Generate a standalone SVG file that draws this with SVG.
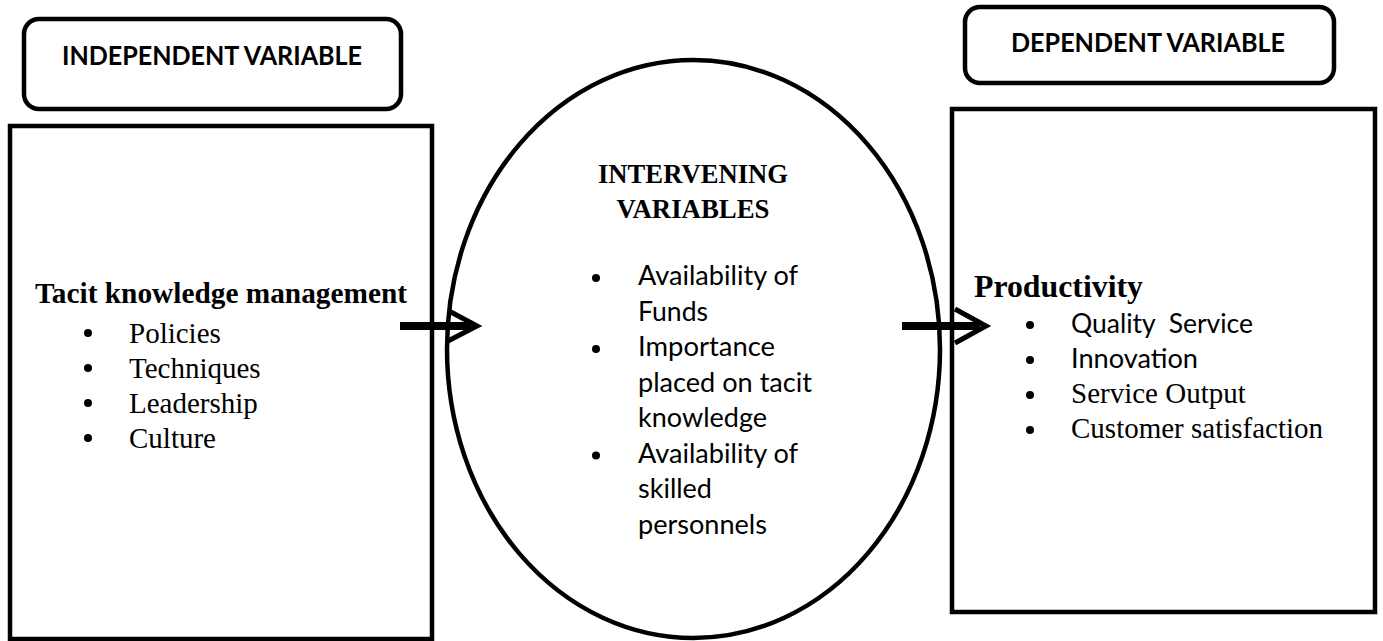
<svg xmlns="http://www.w3.org/2000/svg" width="1383" height="641" viewBox="0 0 1383 641">
<style>
.shape{fill:#fff;stroke:#000;stroke-width:4.5}
.hdr{font-family:Lato,"Liberation Sans",sans-serif;font-weight:bold;font-size:27px;fill:#000}
.sans{font-family:Lato,"Liberation Sans",sans-serif;font-size:27px;fill:#000;white-space:pre}
.serif{font-family:"Liberation Serif","Times New Roman",serif;font-size:29px;fill:#000}
.serifb{font-family:"Liberation Serif","Times New Roman",serif;font-weight:bold;fill:#000}
.shaft{stroke:#000;stroke-width:8;fill:none}
.head{stroke:#000;stroke-width:5;fill:none;stroke-linejoin:miter}
.dot{fill:#000}
</style>
<rect width="1383" height="641" fill="#fff"/>
<g id="independent-header">
<rect class="shape" x="24" y="19" width="377" height="90" rx="15"/>
<text class="hdr" x="62" y="65" textLength="300" lengthAdjust="spacingAndGlyphs">INDEPENDENT VARIABLE</text>
</g>
<g id="independent-box">
<rect class="shape" x="10" y="126" width="422" height="513"/>
<text class="serifb" x="35" y="303" font-size="29" textLength="372" lengthAdjust="spacingAndGlyphs">Tacit knowledge management</text>
<circle class="dot" cx="88" cy="333" r="4"/>
<text class="serif" x="129" y="343">Policies</text>
<circle class="dot" cx="88" cy="368" r="4"/>
<text class="serif" x="129" y="378">Techniques</text>
<circle class="dot" cx="88" cy="403" r="4"/>
<text class="serif" x="129" y="413">Leadership</text>
<circle class="dot" cx="88" cy="438" r="4"/>
<text class="serif" x="129" y="448">Culture</text>
</g>
<g id="intervening">
<ellipse class="shape" cx="693.5" cy="349" rx="246.5" ry="289"/>
<text class="serifb" x="693" y="183" font-size="26.6" text-anchor="middle" textLength="190" lengthAdjust="spacingAndGlyphs">INTERVENING</text>
<text class="serifb" x="693" y="218" font-size="26.6" text-anchor="middle" textLength="153" lengthAdjust="spacingAndGlyphs">VARIABLES</text>
<circle class="dot" cx="596" cy="278" r="4"/>
<text class="sans" x="638" y="285" textLength="160" lengthAdjust="spacingAndGlyphs">Availability of</text>
<text class="sans" x="638" y="320.5" textLength="70" lengthAdjust="spacingAndGlyphs">Funds</text>
<circle class="dot" cx="596" cy="349" r="4"/>
<text class="sans" x="638" y="356" textLength="137" lengthAdjust="spacingAndGlyphs">Importance</text>
<text class="sans" x="638" y="391.5" textLength="174" lengthAdjust="spacingAndGlyphs">placed on tacit</text>
<text class="sans" x="638" y="427" textLength="129" lengthAdjust="spacingAndGlyphs">knowledge</text>
<circle class="dot" cx="596" cy="455.5" r="4"/>
<text class="sans" x="638" y="462.5" textLength="160" lengthAdjust="spacingAndGlyphs">Availability of</text>
<text class="sans" x="638" y="498" textLength="74" lengthAdjust="spacingAndGlyphs">skilled</text>
<text class="sans" x="638" y="533.5" textLength="129" lengthAdjust="spacingAndGlyphs">personnels</text>
</g>
<g id="dependent-header">
<rect class="shape" x="965" y="7" width="369" height="76" rx="15"/>
<text class="hdr" x="1011" y="52" textLength="274" lengthAdjust="spacingAndGlyphs">DEPENDENT VARIABLE</text>
</g>
<g id="dependent-box">
<rect class="shape" x="952" y="109" width="423" height="503"/>
<text class="serifb" x="974" y="297" font-size="31.5" textLength="169" lengthAdjust="spacingAndGlyphs">Productivity</text>
<circle class="dot" cx="1030" cy="325" r="4"/>
<text class="sans" x="1071" y="333" textLength="182" lengthAdjust="spacingAndGlyphs">Quality  Service</text>
<circle class="dot" cx="1030" cy="360" r="4"/>
<text class="sans" x="1071" y="368" textLength="127" lengthAdjust="spacingAndGlyphs">Innovation</text>
<circle class="dot" cx="1030" cy="395" r="4"/>
<text class="serif" x="1071" y="403">Service Output</text>
<circle class="dot" cx="1030" cy="430" r="4"/>
<text class="serif" x="1071" y="438">Customer satisfaction</text>
</g>
<g id="connectors">
<path class="shaft" d="M400 326 H471"/>
<path class="head" d="M449 311 L477 326 L448 341"/>
<path class="shaft" d="M902 326 H980"/>
<path class="head" d="M955 309 L986 326 L955 343"/>
</g>
</svg>
